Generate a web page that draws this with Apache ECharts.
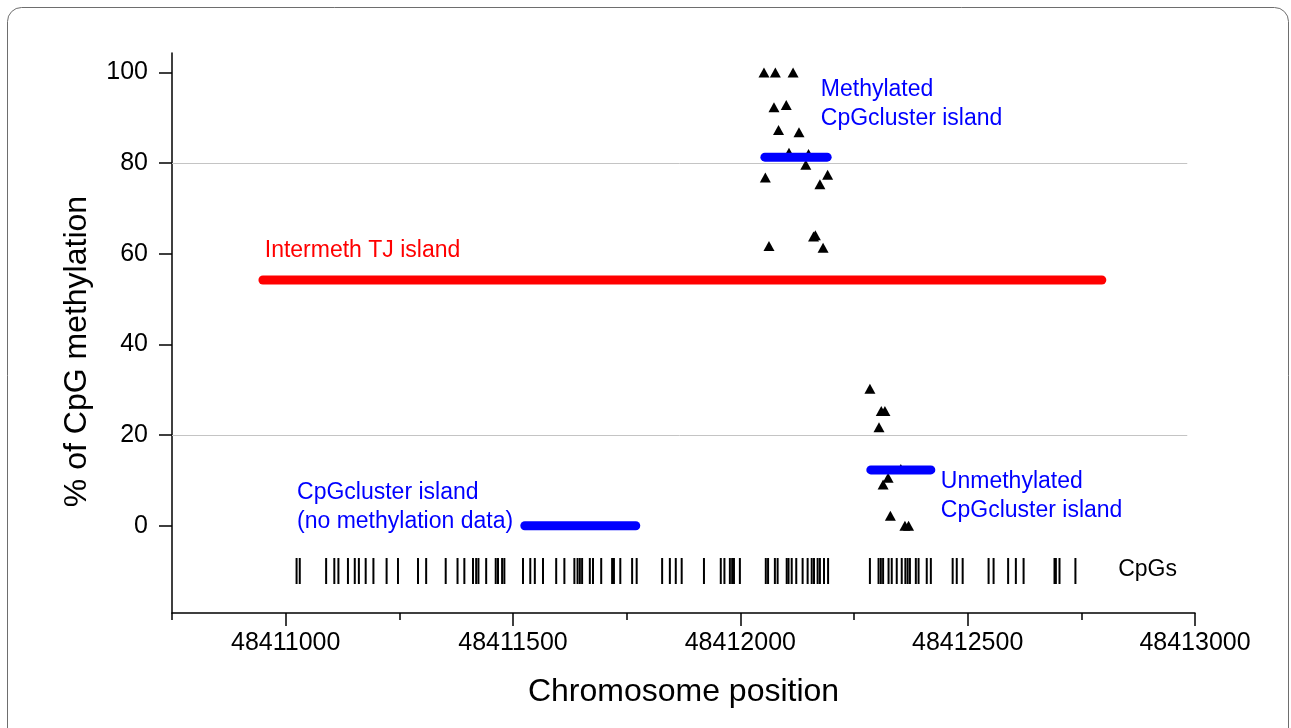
<!DOCTYPE html>
<html>
<head>
<meta charset="utf-8">
<script src="https://cdn.jsdelivr.net/npm/echarts@6/dist/echarts.min.js"></script>
<style>
html,body{margin:0;padding:0;background:#fff;}
#chart{width:1291px;height:728px;}
</style>
</head>
<body>
<div id="chart"></div>
<script>
// ---------- data ----------
const xMin = 48410750;
const xMax = 48413000;
const yMin = -19.26;
const yMax = 104.28;
const xTickLabels = [48411000, 48411500, 48412000, 48412500, 48413000];
const yTickLabels = [0, 20, 40, 60, 80, 100];
const refLevels = [20, 80];
const refLineEnd = 48412983;

// methylation of individual CpGs (triangles)
const methPosUpper = [48412052, 48412077, 48412116, 48412074, 48412101, 48412084, 48412129, 48412107, 48412150,
  48412144, 48412055, 48412192, 48412175, 48412165, 48412161, 48412063, 48412182];
const methValUpper = [100, 100, 100, 92.3, 92.8, 87.3, 86.8, 82.3, 82.0,
  79.6, 76.8, 77.4, 75.3, 64.1, 63.8, 61.7, 61.3];
const methPosLower = [48412285, 48412310, 48412318, 48412305, 48412353, 48412325, 48412314, 48412330, 48412362, 48412370];
const methValLower = [30.2, 25.3, 25.3, 21.7, 12.5, 10.6, 9.1, 2.2, 0, 0];

// islands
const islandNames = ['Intermeth TJ island', 'Methylated CpGcluster island', 'Unmethylated CpGcluster island', 'CpGcluster island (no methylation data)'];
const islandStart = [48410950, 48412054, 48412287, 48411526];
const islandEnd = [48412795, 48412191, 48412419, 48411770];
const islandLevel = [54.2, 81.3, 12.3, 0];

// CpG positions
const cpgLevel = -10;
const cpgPositions = [
  48411024, 48411031, 48411089, 48411107, 48411116, 48411137, 48411152, 48411161, 48411176, 48411193,
  48411222, 48411247, 48411291, 48411309, 48411352, 48411378, 48411393, 48411412, 48411419, 48411424,
  48411441, 48411462, 48411467, 48411476, 48411481, 48411522, 48411538, 48411548, 48411566, 48411595,
  48411613, 48411635, 48411642, 48411647, 48411652, 48411669, 48411676, 48411694, 48411718, 48411722,
  48411736, 48411762, 48411772, 48411828, 48411845, 48411858, 48411871, 48411920, 48411957, 48411965,
  48411977, 48411982, 48411986, 48411999,
  48412056, 48412061, 48412076, 48412082, 48412102, 48412106, 48412113, 48412123, 48412137, 48412148,
  48412157, 48412162, 48412170, 48412175, 48412184, 48412193, 48412285, 48412304, 48412309, 48412314,
  48412326, 48412333, 48412344, 48412355, 48412363, 48412368, 48412373, 48412386, 48412392, 48412410,
  48412419, 48412467, 48412476, 48412489, 48412546, 48412557, 48412589, 48412606, 48412623, 48412691,
  48412694, 48412702, 48412737
];

// annotations
const annoText = ['Methylated\nCpGcluster island', 'Intermeth TJ island', 'CpGcluster island\n(no methylation data)', 'Unmethylated\nCpGcluster island', 'CpGs'];
const annoX = [48412177, 48410954, 48411025, 48412441, 48412831];
const annoY = [92.9, 60.6, 4.2, 6.55, -9.8];

// ---------- styles ----------
const FONT = '"Liberation Sans", Arial, Helvetica, sans-serif';
const islandColors = ['#ff0000', '#0000ff', '#0000ff', '#0000ff'];
const annoColors = ['#0000ff', '#ff0000', '#0000ff', '#0000ff', '#000000'];
const axisLS = {color: '#000', width: 1.5};

const chart = echarts.init(document.getElementById('chart'));

const triData = methPosUpper.map((x, i) => [x, methValUpper[i]])
  .concat(methPosLower.map((x, i) => [x, methValLower[i]]));

const series = [];
series.push({
  type: 'scatter',
  name: 'CpG methylation',
  data: triData,
  symbol: 'triangle',
  symbolSize: [11, 10],
  itemStyle: {color: '#000', opacity: 1},
  z: 3,
  markLine: {
    silent: true,
    symbol: ['none', 'none'],
    label: {show: false},
    lineStyle: {color: '#c4c4c4', width: 1, type: 'solid', opacity: 1},
    data: refLevels.map(v => [{coord: [xMin, v]}, {coord: [refLineEnd, v]}]),
    z: 1
  }
});
series.push({
  type: 'scatter',
  name: 'CpGs',
  data: cpgPositions.map(x => [x, cpgLevel]),
  symbol: 'rect',
  symbolSize: [2, 26],
  itemStyle: {color: '#000', opacity: 1},
  z: 3
});
islandNames.forEach((nm, i) => {
  series.push({
    type: 'line',
    name: nm,
    data: [[islandStart[i], islandLevel[i]], [islandEnd[i], islandLevel[i]]],
    symbol: 'none',
    lineStyle: {color: islandColors[i], width: 9, cap: 'round', opacity: 1},
    z: 5
  });
});
series.push({
  type: 'scatter',
  name: 'annotations',
  silent: true,
  symbolSize: 0,
  itemStyle: {opacity: 1},
  z: 6,
  data: annoText.map((t, i) => ({
    value: [annoX[i], annoY[i]],
    label: {
      show: true, formatter: t, color: annoColors[i], position: 'right', distance: 0, opacity: 1,
      fontSize: 23, lineHeight: 29, fontFamily: FONT, align: 'left', verticalAlign: 'middle'
    }
  }))
});

chart.setOption({
  animation: false,
  backgroundColor: '#fff',
  grid: {left: 172, right: 96, top: 53, bottom: 115},
  xAxis: [
    {
      type: 'value', min: xMin, max: xMax, interval: 250,
      axisLine: {show: true, onZero: false, lineStyle: axisLS},
      axisTick: {show: true, length: 7, lineStyle: axisLS},
      axisLabel: {customValues: xTickLabels, fontSize: 25, color: '#000', fontFamily: FONT, margin: 18,
        formatter: v => String(v)},
      splitLine: {show: false},
      name: 'Chromosome position', nameLocation: 'middle', nameGap: 63,
      nameTextStyle: {fontSize: 32, color: '#000', fontFamily: FONT}
    },
    {
      type: 'value', min: xMin, max: xMax, position: 'bottom', offset: 0,
      axisLine: {show: false, onZero: false},
      axisTick: {show: true, customValues: xTickLabels, length: 13, lineStyle: axisLS},
      axisLabel: {show: false},
      splitLine: {show: false}
    }
  ],
  yAxis: {
    type: 'value', min: yMin, max: yMax,
    axisLine: {show: true, onZero: false, lineStyle: axisLS},
    axisTick: {show: true, customValues: yTickLabels, length: 13, lineStyle: axisLS},
    axisLabel: {customValues: yTickLabels, fontSize: 25, color: '#000', fontFamily: FONT, margin: 24},
    splitLine: {show: false}
  },
  graphic: [
    {
      type: 'rect', silent: true, z: -1,
      shape: {x: 7.5, y: 7.5, width: 1281, height: 800, r: 14},
      style: {fill: 'none', stroke: '#6e6e6e', lineWidth: 1}
    },
    {
      type: 'text', x: 77.5, y: 351.5, rotation: Math.PI / 2, silent: true,
      style: {text: '% of CpG methylation', font: '32px ' + FONT, fill: '#000', align: 'center', verticalAlign: 'middle'}
    }
  ],
  series: series
});
</script>
</body>
</html>
